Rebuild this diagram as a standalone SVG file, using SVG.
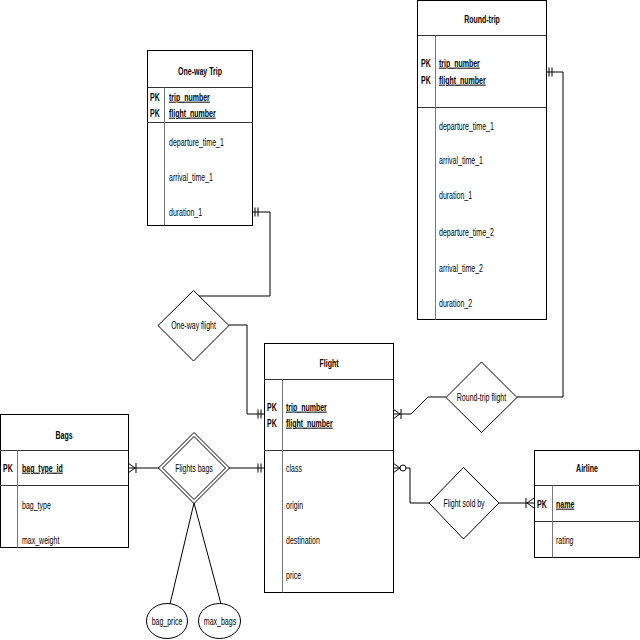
<svg xmlns="http://www.w3.org/2000/svg" width="640" height="640" viewBox="0 0 640 640">
<style>
  .box{fill:#fff;stroke:#000;stroke-width:1}
  .sep{stroke:#333;stroke-width:1;fill:none}
  .div{stroke:#777;stroke-width:1;fill:none}
  .rel{fill:#fff;stroke:#000;stroke-width:1}
  .con{fill:none;stroke:#000;stroke-width:1}
  text{font-family:"Liberation Sans",Arial,sans-serif;font-size:10px;fill:#000;opacity:0.99}
  .b{font-weight:bold}
  .c{text-anchor:middle}
  .u{text-decoration:underline}
</style>
<defs>
  <marker id="mOne" markerUnits="userSpaceOnUse" orient="auto-start-reverse" viewBox="-15 -10 20 20" refX="0" refY="0" markerWidth="20" markerHeight="20" overflow="visible">
    <path d="M-3,-4.5V4.5M-6,-4.5V4.5" fill="none" stroke="#000" stroke-width="1"/>
  </marker>
  <marker id="mOneMany" markerUnits="userSpaceOnUse" orient="auto-start-reverse" viewBox="-15 -10 20 20" refX="0" refY="0" markerWidth="20" markerHeight="20" overflow="visible">
    <path d="M0,-5L-7,0L0,5M-8,-5V5" fill="none" stroke="#000" stroke-width="1"/>
  </marker>
  <marker id="mZeroMany" markerUnits="userSpaceOnUse" orient="auto-start-reverse" viewBox="-15 -10 20 20" refX="0" refY="0" markerWidth="20" markerHeight="20" overflow="visible">
    <path d="M0,-5L-7,0L0,5" fill="none" stroke="#000" stroke-width="1"/>
    <circle cx="-10" cy="0" r="3" fill="#fff" stroke="#000" stroke-width="1"/>
  </marker>
</defs>
<rect width="640" height="640" fill="#fff"/>

<g id="connectors">
  <polyline class="con" points="252,212 270,212 270,296 198,296" marker-start="url(#mOne)"/>
  <polyline class="con" points="229,325 247,325 247,414 264,414" marker-end="url(#mOne)"/>
  <polyline class="con" points="546,72 563,72 563,397 517,397" marker-start="url(#mOne)"/>
  <polyline class="con" points="446,397 428,397 411,414 393,414" marker-end="url(#mOneMany)"/>
  <polyline class="con" points="159,468 128,468" marker-end="url(#mOneMany)"/>
  <polyline class="con" points="229,468 264,468" marker-end="url(#mOne)"/>
  <polyline class="con" points="429,503 410,503 410,468 393,468" marker-end="url(#mZeroMany)"/>
  <polyline class="con" points="499,503 534,503" marker-end="url(#mOneMany)"/>
  <line class="con" x1="194" y1="503" x2="170" y2="604"/>
  <line class="con" x1="194" y1="503" x2="221" y2="604"/>
</g>

<g id="one-way-trip">
  <rect class="box" x="147.5" y="50.5" width="105" height="175"/>
  <path class="sep" d="M147.5,87.5H252.5M147.5,122.5H252.5"/>
  <path class="div" d="M164.5,87.5V225.5"/>
  <text class="b c" transform="translate(200,74.5) scale(0.7,1)">One-way Trip</text>
  <text class="b" transform="translate(150,100.5) scale(0.7,1)">PK</text>
  <text class="b u" transform="translate(169,100.5) scale(0.7,1)">trip_number</text>
  <text class="b" transform="translate(150,116.5) scale(0.7,1)">PK</text>
  <text class="b u" transform="translate(169,116.5) scale(0.7,1)">flight_number</text>
  <text transform="translate(169,145.5) scale(0.7,1)">departure_time_1</text>
  <text transform="translate(169,180.5) scale(0.7,1)">arrival_time_1</text>
  <text transform="translate(169,215.5) scale(0.7,1)">duration_1</text>
</g>

<g id="round-trip">
  <rect class="box" x="417.5" y="0.5" width="129" height="319"/>
  <path class="sep" d="M417.5,35.5H546.5M417.5,107.5H546.5"/>
  <path class="div" d="M435.5,35.5V319.5"/>
  <text class="b c" transform="translate(482,22.5) scale(0.7,1)">Round-trip</text>
  <text class="b" transform="translate(421,66.5) scale(0.7,1)">PK</text>
  <text class="b u" transform="translate(439,66.5) scale(0.7,1)">trip_number</text>
  <text class="b" transform="translate(421,83.5) scale(0.7,1)">PK</text>
  <text class="b u" transform="translate(439,83.5) scale(0.7,1)">flight_number</text>
  <text transform="translate(439,129.5) scale(0.7,1)">departure_time_1</text>
  <text transform="translate(439,163.5) scale(0.7,1)">arrival_time_1</text>
  <text transform="translate(439,198.5) scale(0.7,1)">duration_1</text>
  <text transform="translate(439,235.5) scale(0.7,1)">departure_time_2</text>
  <text transform="translate(439,271.5) scale(0.7,1)">arrival_time_2</text>
  <text transform="translate(439,306.5) scale(0.7,1)">duration_2</text>
</g>

<g id="flight">
  <rect class="box" x="264.5" y="343.5" width="129" height="249"/>
  <path class="sep" d="M264.5,379.5H393.5M264.5,450.5H393.5"/>
  <path class="div" d="M282.5,379.5V592.5"/>
  <text class="b c" transform="translate(329,366.5) scale(0.7,1)">Flight</text>
  <text class="b" transform="translate(267,410.5) scale(0.7,1)">PK</text>
  <text class="b u" transform="translate(286,410.5) scale(0.7,1)">trip_number</text>
  <text class="b" transform="translate(267,426.5) scale(0.7,1)">PK</text>
  <text class="b u" transform="translate(286,426.5) scale(0.7,1)">flight_number</text>
  <text transform="translate(286,471.5) scale(0.7,1)">class</text>
  <text transform="translate(286,508.5) scale(0.7,1)">origin</text>
  <text transform="translate(286,543.5) scale(0.7,1)">destination</text>
  <text transform="translate(286,578.5) scale(0.7,1)">price</text>
</g>

<g id="bags">
  <rect class="box" x="0.5" y="414.5" width="128" height="133"/>
  <path class="sep" d="M0.5,450.5H128.5M0.5,485.5H128.5"/>
  <path class="div" d="M17.5,450.5V547.5"/>
  <text class="b c" transform="translate(64,438.5) scale(0.7,1)">Bags</text>
  <text class="b" transform="translate(3,471.5) scale(0.7,1)">PK</text>
  <text class="b u" transform="translate(22,471.5) scale(0.7,1)">bag_type_id</text>
  <text transform="translate(22,508.5) scale(0.7,1)">bag_type</text>
  <text transform="translate(22,543.5) scale(0.7,1)">max_weight</text>
</g>

<g id="airline">
  <rect class="box" x="534.5" y="450.5" width="105" height="107"/>
  <path class="sep" d="M534.5,485.5H639.5M534.5,521.5H639.5"/>
  <path class="div" d="M552.5,485.5V557.5"/>
  <text class="b c" transform="translate(587,471.5) scale(0.7,1)">Airline</text>
  <text class="b" transform="translate(537,507.5) scale(0.7,1)">PK</text>
  <text class="b u" transform="translate(556,507.5) scale(0.7,1)">name</text>
  <text transform="translate(556,543.5) scale(0.7,1)">rating</text>
</g>

<g id="one-way-flight">
  <polygon class="rel" points="193.5,290.5 229,325.5 193.5,361 158,325.5"/>
  <text class="c" transform="translate(193.5,329) scale(0.7,1)">One-way flight</text>
</g>

<g id="round-trip-flight">
  <polygon class="rel" points="481.5,362 517,397.5 481.5,432.5 446,397.5"/>
  <text class="c" transform="translate(481.5,401) scale(0.7,1)">Round-trip flight</text>
</g>

<g id="flights-bags">
  <polygon class="rel" points="194,432.5 229.5,468 194,503.5 158.5,468"/>
  <polygon class="rel" points="194,436.5 225.5,468 194,499.5 162.5,468"/>
  <text class="c" transform="translate(194,471.5) scale(0.7,1)">Flights bags</text>
</g>

<g id="flight-sold-by">
  <polygon class="rel" points="463.5,467.5 499,503 463.5,539 429,503"/>
  <text class="c" transform="translate(464,506.5) scale(0.7,1)">Flight sold by</text>
</g>

<g id="bag-price">
  <ellipse class="rel" cx="167" cy="621" rx="20.5" ry="17.5"/>
  <text class="c" transform="translate(167,624.5) scale(0.7,1)">bag_price</text>
</g>

<g id="max-bags">
  <ellipse class="rel" cx="219.5" cy="621" rx="21" ry="17.5"/>
  <text class="c" transform="translate(220,624.5) scale(0.7,1)">max_bags</text>
</g>
</svg>
